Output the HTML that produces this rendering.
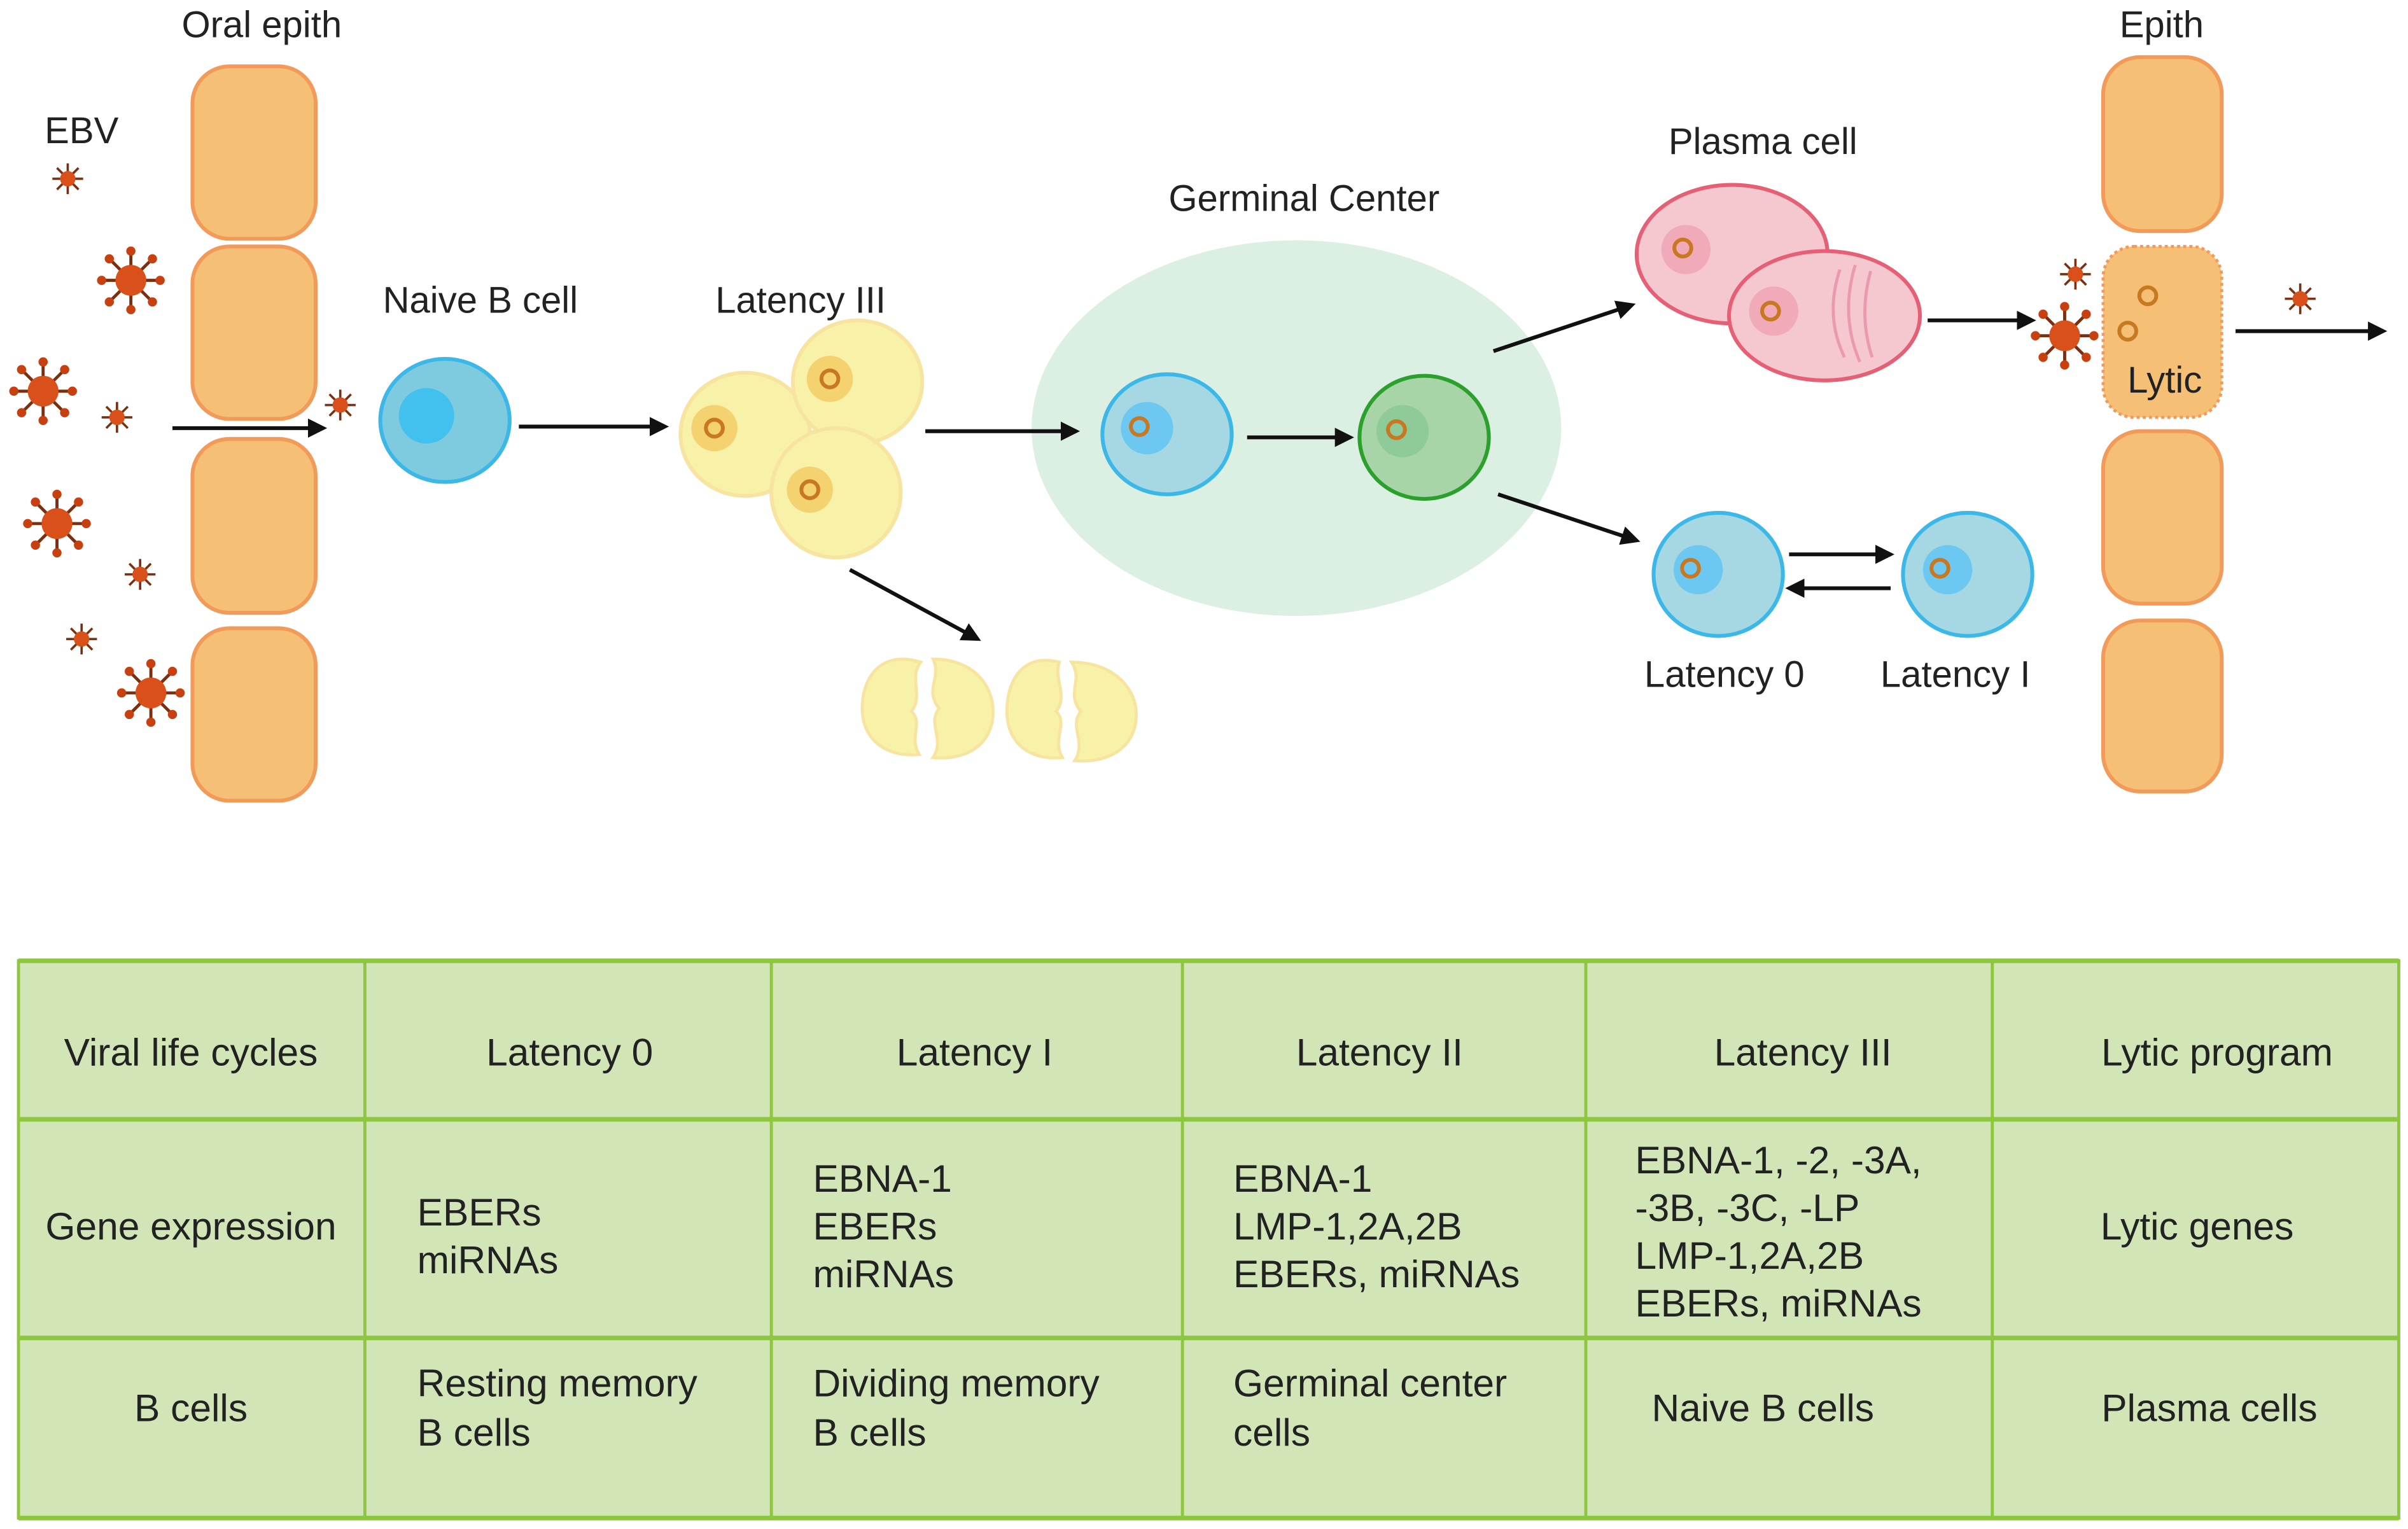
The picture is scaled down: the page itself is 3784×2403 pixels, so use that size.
<!DOCTYPE html>
<html><head><meta charset="utf-8"><style>html,body{margin:0;padding:0;background:#fff}svg{display:block}text{font-family:"Liberation Sans",sans-serif;fill:#222}</style></head><body>
<svg width="3784" height="2403" viewBox="0 0 1564 993" xmlns="http://www.w3.org/2000/svg">
<defs>
<marker id="ah" viewBox="0 0 10 10" refX="8" refY="5" markerWidth="5" markerHeight="5" orient="auto"><path d="M0,0L10,5L0,10z" fill="#111"/></marker>
<g id="vb"><g stroke="#7a3010" stroke-width="2"><line x1="0" y1="-19" x2="0" y2="19"/><line x1="-19" y1="0" x2="19" y2="0"/><line x1="-14" y1="-14" x2="14" y2="14"/><line x1="-14" y1="14" x2="14" y2="-14"/></g><g fill="#c84010"><circle cx="0" cy="-19" r="3"/><circle cx="0" cy="19" r="3"/><circle cx="-19" cy="0" r="3"/><circle cx="19" cy="0" r="3"/><circle cx="-14" cy="-14" r="3"/><circle cx="14" cy="14" r="3"/><circle cx="-14" cy="14" r="3"/><circle cx="14" cy="-14" r="3"/></g><circle r="10" fill="#d9501a"/></g>
<g id="vs"><g stroke="#7a3010" stroke-width="1.5"><line x1="0" y1="-10" x2="0" y2="10"/><line x1="-10" y1="0" x2="10" y2="0"/><line x1="-7" y1="-7" x2="7" y2="7"/><line x1="-7" y1="7" x2="7" y2="-7"/></g><circle r="5" fill="#d9501a"/></g>
<g id="ring"><circle r="5.5" fill="none" stroke="#c87820" stroke-width="2.5"/></g>
</defs>
<!-- table -->
<rect x="12" y="623" width="1546" height="364" fill="#d2e5b7"/>
<g stroke="#8dc63f" stroke-width="3"><line x1="12" y1="624" x2="1558" y2="624"/><line x1="12" y1="727" x2="1558" y2="727"/><line x1="12" y1="869" x2="1558" y2="869"/><line x1="12" y1="986" x2="1558" y2="986"/></g>
<g stroke="#8dc63f" stroke-width="2"><line x1="12" y1="623" x2="12" y2="987"/><line x1="237" y1="623" x2="237" y2="987"/><line x1="501" y1="623" x2="501" y2="987"/><line x1="768" y1="623" x2="768" y2="987"/><line x1="1030" y1="623" x2="1030" y2="987"/><line x1="1294" y1="623" x2="1294" y2="987"/><line x1="1558" y1="623" x2="1558" y2="987"/></g>
<g font-size="25" text-anchor="middle">
<text x="124" y="692">Viral life cycles</text><text x="370" y="692">Latency 0</text><text x="633" y="692">Latency I</text><text x="896" y="692">Latency II</text><text x="1171" y="692">Latency III</text><text x="1440" y="692">Lytic program</text>
<text x="124" y="805">Gene expression</text><text x="1427" y="805">Lytic genes</text>
<text x="124" y="923">B cells</text><text x="1145" y="923">Naive B cells</text><text x="1435" y="923">Plasma cells</text>
</g>
<g font-size="25">
<text x="271" y="796">EBERs</text><text x="271" y="827">miRNAs</text>
<text x="528" y="774">EBNA-1</text><text x="528" y="805">EBERs</text><text x="528" y="836">miRNAs</text>
<text x="801" y="774">EBNA-1</text><text x="801" y="805">LMP-1,2A,2B</text><text x="801" y="836">EBERs, miRNAs</text>
<text x="1062" y="762">EBNA-1, -2, -3A,</text><text x="1062" y="793">-3B, -3C, -LP</text><text x="1062" y="824">LMP-1,2A,2B</text><text x="1062" y="855">EBERs, miRNAs</text>
<text x="271" y="907">Resting memory</text><text x="271" y="939">B cells</text>
<text x="528" y="907">Dividing memory</text><text x="528" y="939">B cells</text>
<text x="801" y="907">Germinal center</text><text x="801" y="939">cells</text>
</g>
<!-- top labels -->
<g font-size="24" text-anchor="middle">
<text x="170" y="24">Oral epith</text><text x="53" y="93">EBV</text><text x="312" y="203">Naive B cell</text><text x="520" y="203">Latency III</text>
<text x="847" y="137">Germinal Center</text><text x="833" y="203">Latency II</text><text x="1145" y="100">Plasma cell</text>
<text x="1120" y="446">Latency 0</text><text x="1270" y="446">Latency I</text><text x="1404" y="24">Epith</text>
</g>
<!-- epith -->
<g fill="#f5c075" stroke="#f29a5a" stroke-width="2.5">
<rect x="125" y="43" width="80" height="112" rx="24"/><rect x="125" y="160" width="80" height="112" rx="24"/><rect x="125" y="285" width="80" height="113" rx="24"/><rect x="125" y="408" width="80" height="112" rx="24"/>
<rect x="1366" y="37" width="77" height="113" rx="24"/><rect x="1366" y="280" width="77" height="112" rx="24"/><rect x="1366" y="403" width="77" height="111" rx="24"/>
</g>
<rect x="1366" y="160" width="77" height="111" rx="20" fill="#f5c075" stroke="#f29a5a" stroke-width="2" stroke-dasharray="2 2"/>
<text x="1406" y="255" font-size="24" text-anchor="middle">Lytic</text>
<use href="#ring" x="1395" y="192"/><use href="#ring" x="1382" y="215"/>
<!-- viruses -->
<use href="#vs" x="44" y="116"/><use href="#vb" x="85" y="182"/><use href="#vb" x="28" y="254"/><use href="#vs" x="76" y="271"/><use href="#vb" x="37" y="340"/><use href="#vs" x="91" y="373"/><use href="#vs" x="53" y="415"/><use href="#vb" x="98" y="450"/><use href="#vs" x="221" y="263"/>
<use href="#vs" x="1348" y="178"/><use href="#vb" x="1341" y="218"/><use href="#vs" x="1494" y="194"/>
<!-- germinal center bg -->
<ellipse cx="842" cy="278" rx="172" ry="122" fill="#dcefe3"/>
<!-- arrows -->
<g stroke="#111" stroke-width="2.5" marker-end="url(#ah)">
<line x1="112" y1="278" x2="210" y2="278"/><line x1="337" y1="277" x2="432" y2="277"/><line x1="601" y1="280" x2="699" y2="280"/><line x1="552" y1="370" x2="635" y2="415"/>
<line x1="1252" y1="208" x2="1320" y2="208"/><line x1="1452" y1="215" x2="1548" y2="215"/>
<line x1="1162" y1="360" x2="1228" y2="360"/><line x1="1228" y1="382" x2="1162" y2="382"/>
<line x1="810" y1="284" x2="877" y2="284"/><line x1="970" y1="228" x2="1060" y2="198"/><line x1="973" y1="321" x2="1063" y2="351"/>
</g>
<!-- naive -->
<ellipse cx="289" cy="273" rx="42" ry="40" fill="#7ecbe0" stroke="#3bb7e8" stroke-width="2.5"/><circle cx="277" cy="270" r="18" fill="#42c0ee"/>
<!-- latency III -->
<g fill="#f8f2a8" stroke="#f7e4a0" stroke-width="2.5">
<ellipse cx="484" cy="282" rx="42" ry="40"/><ellipse cx="557" cy="248" rx="42" ry="40"/><ellipse cx="543" cy="320" rx="42" ry="42"/></g>
<g fill="#f5d270"><circle cx="464" cy="278" r="15"/><circle cx="539" cy="246" r="15"/><circle cx="526" cy="318" r="15"/></g>
<use href="#ring" x="464" y="278"/><use href="#ring" x="539" y="246"/><use href="#ring" x="526" y="318"/>
<!-- broken cells -->
<g fill="#f8f2a8" stroke="#f7e4a0" stroke-width="2">
<path d="M598,430 C572,422 560,440 560,460 C560,480 575,492 597,490 C590,478 600,470 592,462 C600,452 590,440 598,430z"/>
<path d="M606,428 C632,428 645,445 645,462 C645,482 630,494 606,492 C614,480 602,470 610,460 C600,448 612,440 606,428z"/>
<path d="M688,430 C664,424 654,442 654,462 C654,482 668,494 690,492 C683,480 694,470 686,462 C694,452 684,440 688,430z"/>
<path d="M696,430 C722,430 738,446 738,464 C738,484 722,496 698,494 C706,482 694,472 702,462 C692,450 704,442 696,430z"/>
</g>
<ellipse cx="758" cy="282" rx="42" ry="39" fill="#a5d8e2" stroke="#3bb7e8" stroke-width="2.5"/><circle cx="745" cy="278" r="17" fill="#6cc8f0"/><use href="#ring" x="740" y="277"/>
<ellipse cx="925" cy="284" rx="42" ry="40" fill="#a8d5a8" stroke="#2ca02c" stroke-width="2.5"/><circle cx="911" cy="280" r="17" fill="#8ecb98"/><use href="#ring" x="907" y="279"/>
<!-- plasma -->
<ellipse cx="1125" cy="165" rx="62" ry="45" fill="#f5c8d0" stroke="#e56075" stroke-width="2.5"/><circle cx="1095" cy="162" r="16" fill="#f0aab8"/><use href="#ring" x="1093" y="161"/>
<ellipse cx="1185" cy="205" rx="62" ry="42" fill="#f5c8d0" stroke="#e56075" stroke-width="2.5"/><circle cx="1152" cy="202" r="16" fill="#f0aab8"/><use href="#ring" x="1150" y="202"/>
<g stroke="#eb9aab" stroke-width="2" fill="none"><path d="M1195,175 Q1185,205 1198,232"/><path d="M1205,172 Q1195,205 1208,235"/><path d="M1215,176 Q1207,205 1216,232"/></g>
<!-- latency 0 / I -->
<ellipse cx="1116" cy="373" rx="42" ry="40" fill="#a5d8e2" stroke="#3bb7e8" stroke-width="2.5"/><circle cx="1103" cy="370" r="16" fill="#6cc8f0"/><use href="#ring" x="1098" y="369"/>
<ellipse cx="1278" cy="373" rx="42" ry="40" fill="#a5d8e2" stroke="#3bb7e8" stroke-width="2.5"/><circle cx="1265" cy="370" r="16" fill="#6cc8f0"/><use href="#ring" x="1260" y="369"/>
</svg>
</body></html>
